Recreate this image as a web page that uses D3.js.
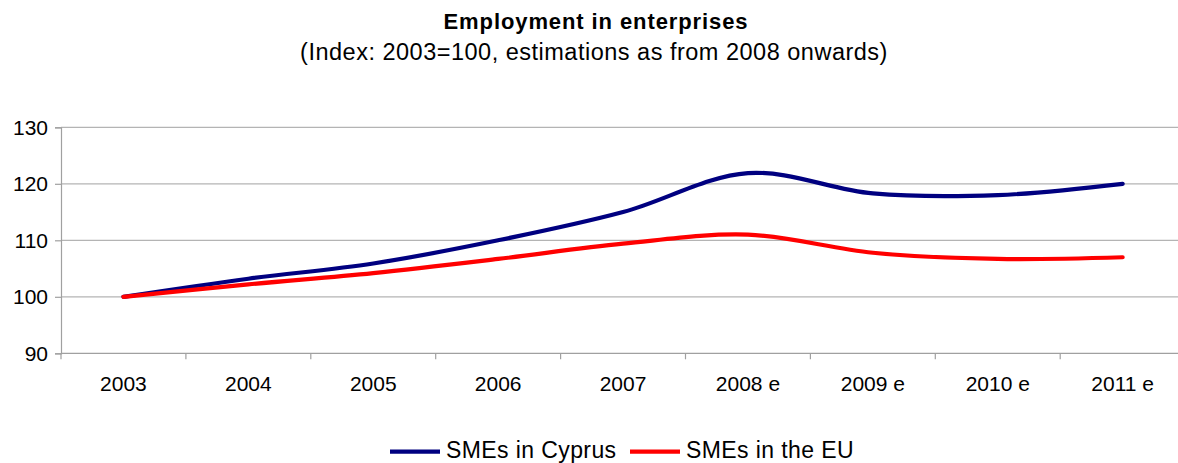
<!DOCTYPE html>
<html>
<head>
<meta charset="utf-8">
<script src="https://cdn.jsdelivr.net/npm/d3@7"></script>
<style>
  html, body { margin: 0; padding: 0; background: #fff; }
  svg { display: block; font-family: "Liberation Sans", Arial, sans-serif; }
</style>
</head>
<body>
<svg id="chart" width="1178" height="463"></svg>
<script>
// Employment index, 2003 = 100 (2008 onwards are estimates)
const categories = ["2003", "2004", "2005", "2006", "2007", "2008 e", "2009 e", "2010 e", "2011 e"];
const cyprusValues = [100, 103.2, 105.9, 110.0, 115.0, 121.9, 118.3, 118.0, 120.0];
const euValues = [100, 102.2, 104.2, 106.7, 109.4, 111.0, 107.8, 106.7, 107.0];
const yTicks = [90, 100, 110, 120, 130];
const seriesNames = ["SMEs in Cyprus", "SMEs in the EU"];
const seriesColors = ["#000080", "#ff0000"];

const svg = d3.select("#chart");
const plot = { left: 61, top: 127.3, bottom: 353.3, step: 124.9 };
const plotRight = plot.left + plot.step * categories.length;

const x = d3.scaleBand().domain(categories).range([plot.left, plotRight]).paddingInner(0).paddingOuter(0);
const y = d3.scaleLinear().domain([90, 130]).range([plot.bottom, plot.top]);

// Title
svg.append("text").attr("x", 596).attr("y", 29).attr("text-anchor", "middle")
  .attr("font-size", 22).attr("font-weight", "bold").attr("fill", "#000")
  .attr("letter-spacing", 0.9)
  .text("Employment in enterprises");
svg.append("text").attr("x", 594).attr("y", 60).attr("text-anchor", "middle")
  .attr("font-size", 23.5).attr("fill", "#000").attr("letter-spacing", 0.5)
  .text("(Index: 2003=100, estimations as from 2008 onwards)");

// Horizontal gridlines
svg.append("g").selectAll("line").data(yTicks.filter(d => d !== 90)).join("line")
  .attr("x1", plot.left).attr("x2", 1178)
  .attr("y1", d => y(d)).attr("y2", d => y(d))
  .attr("stroke", "#b4b4b4").attr("stroke-width", 1.2);

// Y axis
const yAxis = svg.append("g").attr("transform", `translate(${plot.left},0)`)
  .call(d3.axisLeft(y).tickValues(yTicks).tickSize(6).tickPadding(7));
yAxis.select(".domain").attr("stroke", "#a0a0a0").attr("stroke-width", 1.2);
yAxis.selectAll(".tick line").attr("stroke", "#a0a0a0").attr("stroke-width", 1.2);
yAxis.selectAll("text").attr("font-size", 21).attr("fill", "#000")
  .attr("font-family", "Liberation Sans, Arial, sans-serif");

// X axis with tick marks between categories
const xAxis = svg.append("g").attr("transform", `translate(0,${plot.bottom})`);
xAxis.append("line").attr("x1", plot.left).attr("x2", 1178).attr("y1", 0).attr("y2", 0)
  .attr("stroke", "#a0a0a0").attr("stroke-width", 1.2);
xAxis.selectAll("line.sep").data(categories).join("line").attr("class", "sep")
  .attr("x1", d => x(d)).attr("x2", d => x(d)).attr("y1", 0).attr("y2", 6)
  .attr("stroke", "#a0a0a0").attr("stroke-width", 1.2);
xAxis.selectAll("text").data(categories).join("text")
  .attr("x", d => x(d) + x.bandwidth() / 2).attr("y", 38)
  .attr("text-anchor", "middle").attr("font-size", 21).attr("fill", "#000")
  .text(d => d);

// Smoothed series lines
const line = d3.line()
  .x((d, i) => x(categories[i]) + x.bandwidth() / 2)
  .y(d => y(d))
  .curve(d3.curveCatmullRom.alpha(0.5));

[cyprusValues, euValues].forEach((vals, k) => {
  svg.append("path").datum(vals)
    .attr("d", line).attr("fill", "none")
    .attr("stroke", seriesColors[k]).attr("stroke-width", 4.2)
    .attr("stroke-linecap", "round").attr("stroke-linejoin", "round");
});

// Legend
const legendItems = [{ x: 390, name: seriesNames[0], color: seriesColors[0] },
                     { x: 630, name: seriesNames[1], color: seriesColors[1] }];
const lg = svg.append("g");
legendItems.forEach(it => {
  lg.append("line").attr("x1", it.x).attr("x2", it.x + 50).attr("y1", 451.7).attr("y2", 451.7)
    .attr("stroke", it.color).attr("stroke-width", 4.2);
  lg.append("text").attr("x", it.x + 56).attr("y", 458).attr("font-size", 23)
    .attr("letter-spacing", 0.4).attr("fill", "#000")
    .text(it.name);
});
</script>
</body>
</html>
